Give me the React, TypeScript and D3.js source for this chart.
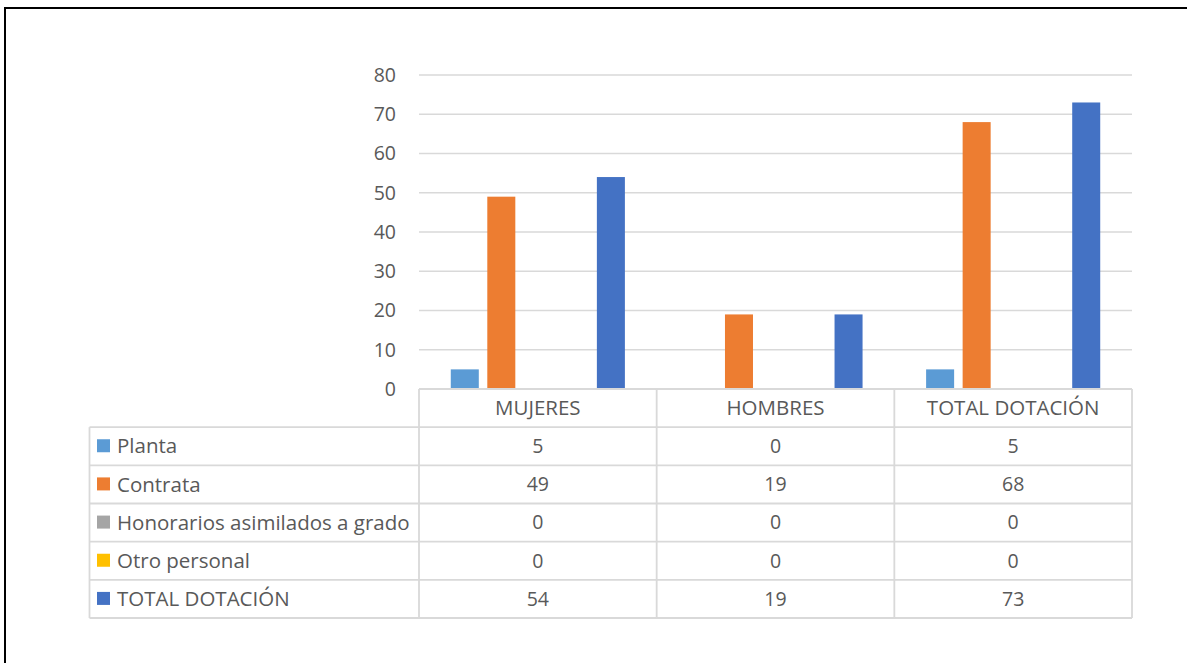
import React from "react";
import * as d3 from "d3";

const categories = ["MUJERES", "HOMBRES", "TOTAL DOTACIÓN"];
const seriesNames = ["Planta", "Contrata", "Honorarios asimilados a grado", "Otro personal", "TOTAL DOTACIÓN"];
const planta = [5, 0, 5];
const contrata = [49, 19, 68];
const honorarios = [0, 0, 0];
const otroPersonal = [0, 0, 0];
const totalDotacion = [54, 19, 73];
const yTicks = [0, 10, 20, 30, 40, 50, 60, 70, 80];
const seriesColors = ["#5B9BD5", "#ED7D31", "#A5A5A5", "#FFC000", "#4472C4"];

const W = 1187;
const H = 663;
const FONT = "'Open Sans', 'Noto Sans', sans-serif";
const TEXT = "#595959";
const GRID = "#d9d9d9";
const LABEL_SIZE = 20.5;
const NUM_SIZE = 19.5;

export default function App() {
  const series = [planta, contrata, honorarios, otroPersonal, totalDotacion];

  const plotLeft = 419;
  const plotRight = 1132;
  const tableLeft = 89.5;

  const x = d3.scaleBand<string>().domain(categories).range([plotLeft, plotRight]).padding(0);
  const xInner = d3
    .scaleBand<string>()
    .domain(seriesNames)
    .range([0, x.bandwidth()])
    .paddingInner(0.233)
    .paddingOuter(0.87);
  const y = d3.scaleLinear().domain([0, 80]).range([389, 75]);

  // header row + one row per series
  const rows = d3
    .scaleBand<string>()
    .domain(["header", ...seriesNames])
    .range([y(0), 618]);

  return (
    <div style={{ position: "fixed", left: 0, top: 0, background: "#fff" }}>
      <svg width={W} height={H} style={{ display: "block" }}>
        <rect width={W} height={H} fill="#fff" />
        {/* page frame */}
        <line x1={5} x2={W} y1={8} y2={8} stroke="#000" strokeWidth={2} />
        <line x1={5} x2={5} y1={7} y2={H} stroke="#000" strokeWidth={2} />

        {/* gridlines + y labels */}
        {yTicks.map((t) => (
          <g key={t}>
            <line x1={plotLeft} x2={plotRight} y1={y(t)} y2={y(t)} stroke={GRID} strokeWidth={1.5} />
            <text
              x={396}
              y={y(t)}
              dy="0.35em"
              textAnchor="end"
              fontFamily={FONT}
              fontSize={NUM_SIZE}
              fill={TEXT}
            >
              {t}
            </text>
          </g>
        ))}

        {/* bars */}
        {series.map((vals, si) =>
          vals.map((v, ci) => (
            <rect
              key={`${si}-${ci}`}
              x={(x(categories[ci]) ?? 0) + (xInner(seriesNames[si]) ?? 0)}
              y={y(v)}
              width={xInner.bandwidth()}
              height={y(0) - y(v)}
              fill={seriesColors[si]}
            />
          ))
        )}

        {/* data table */}
        <g stroke={GRID} strokeWidth={1.8} fill="none">
          {seriesNames.map((s) => (
            <line
              key={s}
              x1={tableLeft}
              x2={plotRight}
              y1={rows(s) ?? 0}
              y2={rows(s) ?? 0}
            />
          ))}
          <line x1={tableLeft} x2={plotRight} y1={rows.range()[1]} y2={rows.range()[1]} />
          <line x1={tableLeft} x2={tableLeft} y1={rows(seriesNames[0]) ?? 0} y2={rows.range()[1]} />
          <line x1={plotLeft} x2={plotRight} y1={y(0)} y2={y(0)} />
          {[...categories.map((c) => x(c) ?? 0), plotRight].map((xx, i) => (
            <line key={i} x1={xx} x2={xx} y1={y(0)} y2={rows.range()[1]} />
          ))}
        </g>

        {categories.map((c) => (
          <text
            key={c}
            x={(x(c) ?? 0) + x.bandwidth() / 2}
            y={(rows("header") ?? 0) + rows.bandwidth() / 2}
            dy="0.35em"
            textAnchor="middle"
            fontFamily={FONT}
            fontSize={LABEL_SIZE}
            fill={TEXT}
          >
            {c}
          </text>
        ))}

        {seriesNames.map((s, si) => {
          const cy = (rows(s) ?? 0) + rows.bandwidth() / 2;
          return (
            <g key={s}>
              <rect x={97} y={cy - 7} width={13} height={13} fill={seriesColors[si]} />
              <text x={117} y={cy} dy="0.35em" fontFamily={FONT} fontSize={LABEL_SIZE} fill={TEXT}>
                {s}
              </text>
              {series[si].map((v, ci) => (
                <text
                  key={ci}
                  x={(x(categories[ci]) ?? 0) + x.bandwidth() / 2}
                  y={cy}
                  dy="0.35em"
                  textAnchor="middle"
                  fontFamily={FONT}
                  fontSize={NUM_SIZE}
                  fill={TEXT}
                >
                  {v}
                </text>
              ))}
            </g>
          );
        })}
      </svg>
    </div>
  );
}
